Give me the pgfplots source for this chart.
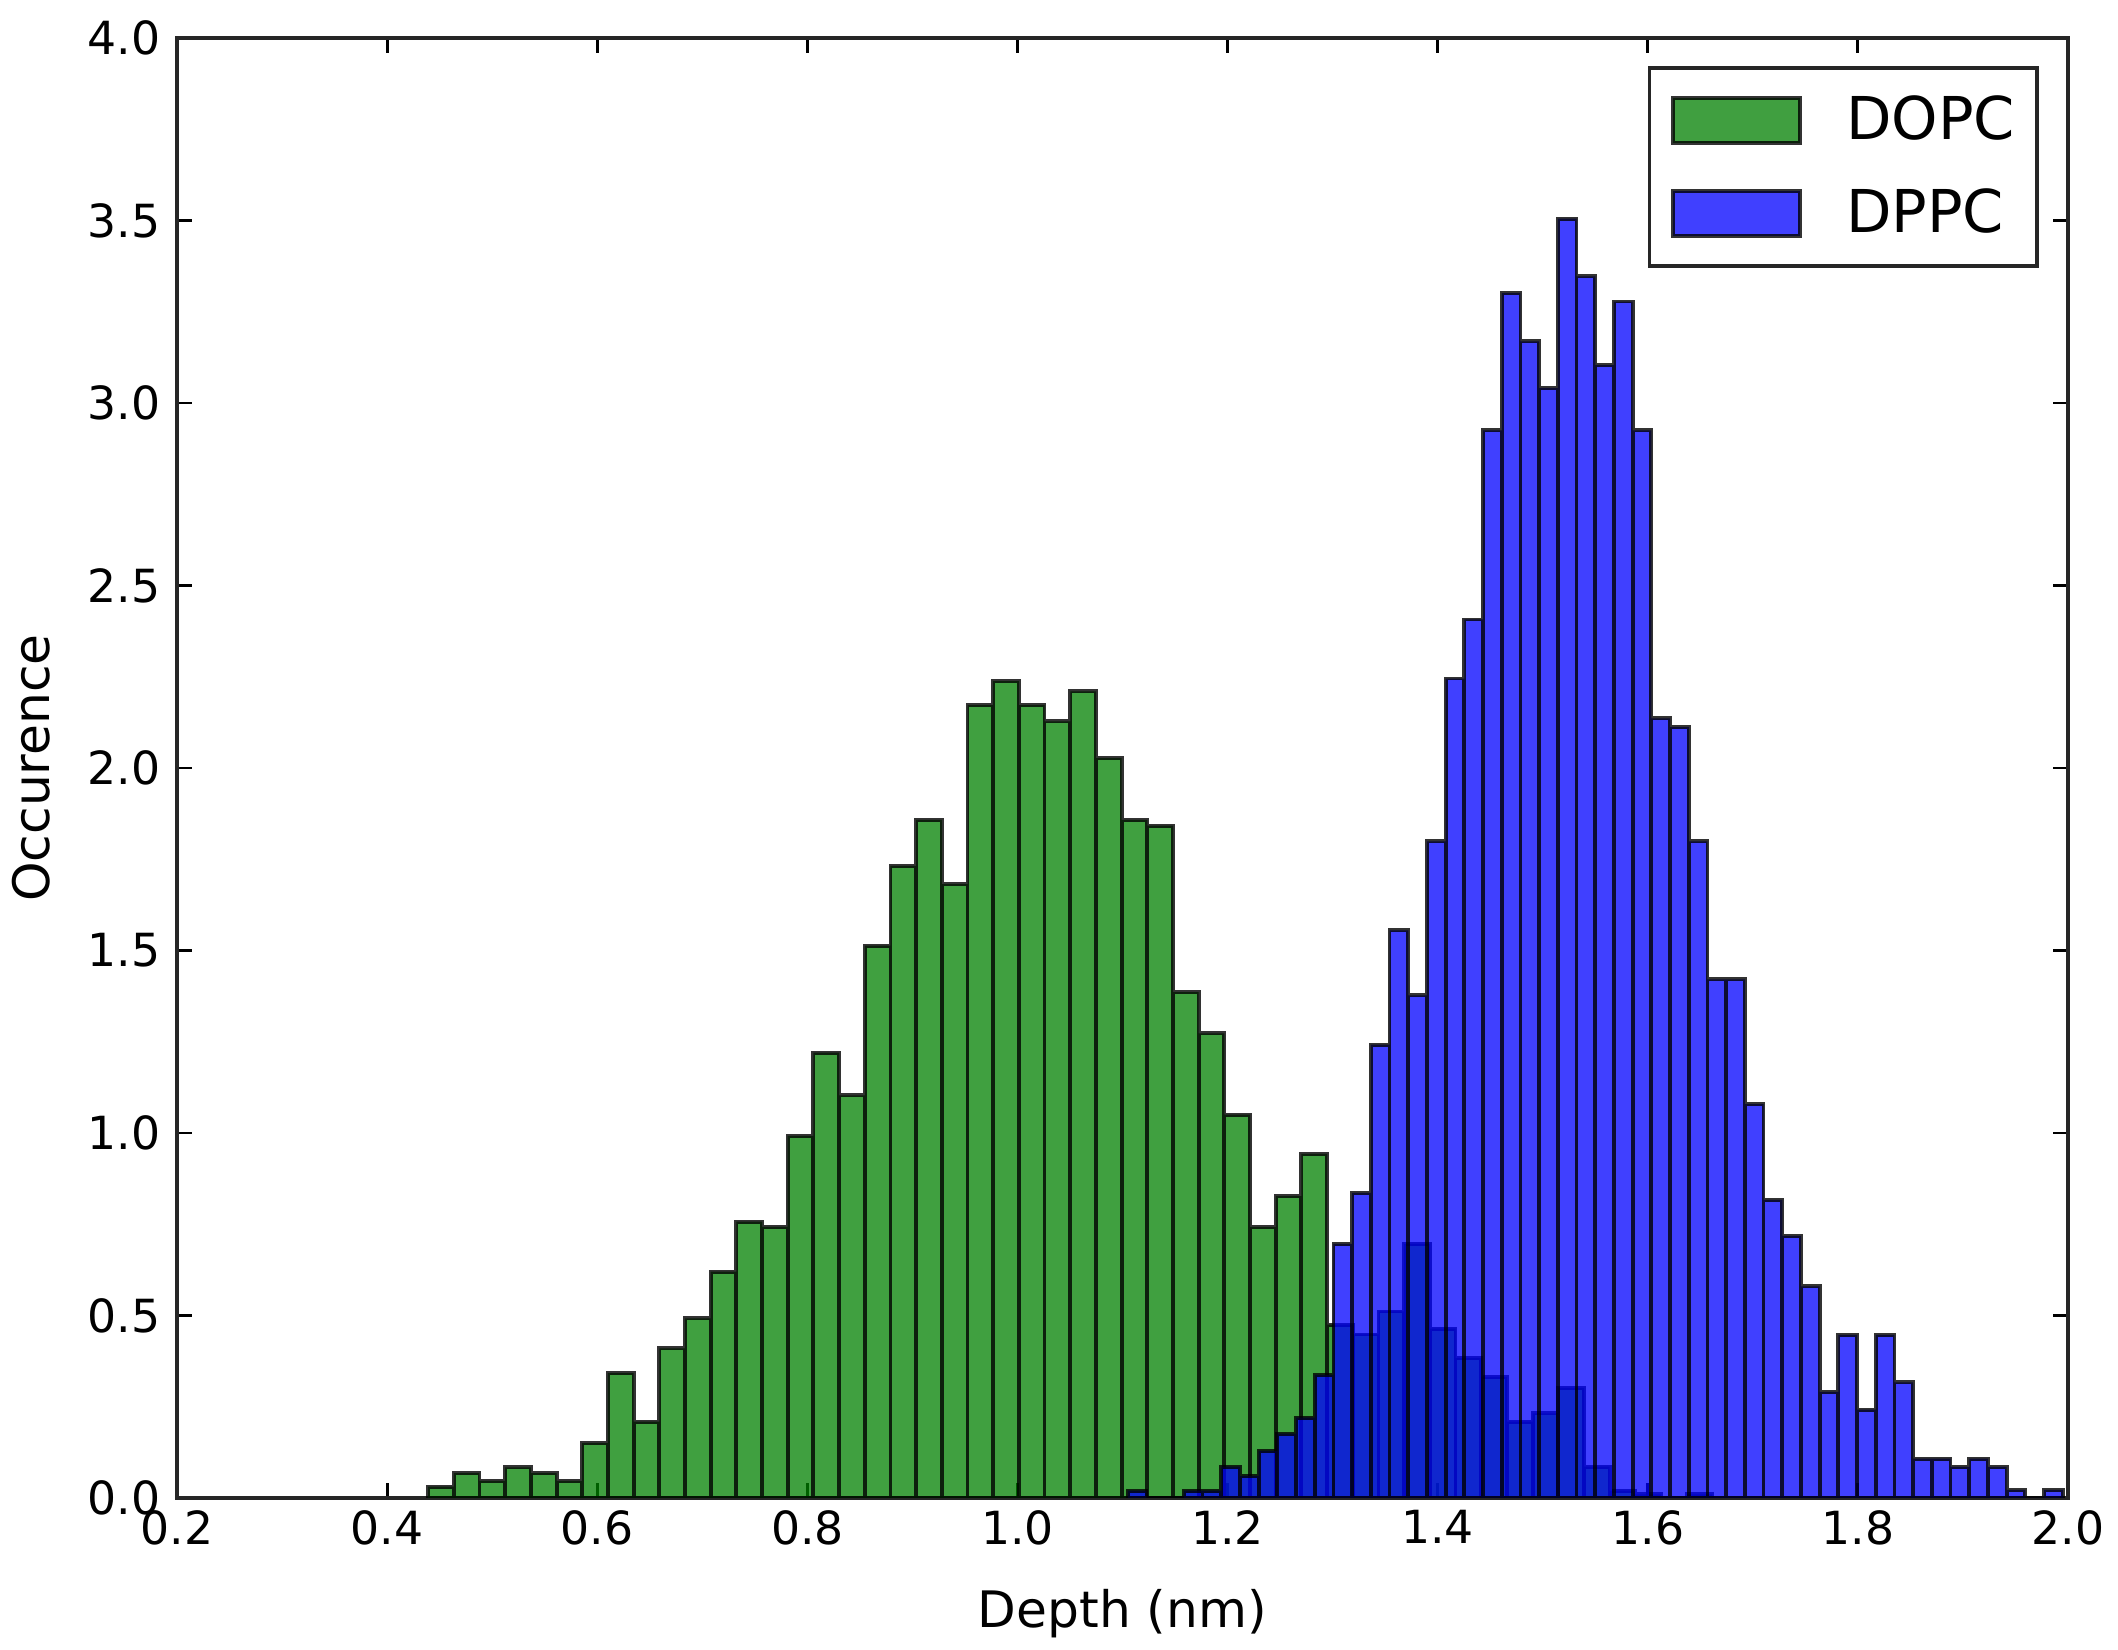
\documentclass[border=0pt]{standalone}
\usepackage{fontspec}
\setmainfont{DejaVu Sans}
\usepackage{pgfplots}
\pgfplotsset{compat=1.18}

\begin{document}
\begin{tikzpicture}
\begin{axis}[
  scale only axis,
  width=18.91cm, height=14.60cm,
  xmin=0.2, xmax=2.0, ymin=0, ymax=4.0,
  xtick={0.2,0.4,0.6,0.8,1.0,1.2,1.4,1.6,1.8,2.0},
  ytick={0,0.5,1.0,1.5,2.0,2.5,3.0,3.5,4.0},
  xticklabel style={/pgf/number format/fixed,/pgf/number format/fixed zerofill,/pgf/number format/precision=1},
  yticklabel style={/pgf/number format/fixed,/pgf/number format/fixed zerofill,/pgf/number format/precision=1, xshift=-0.04cm},
  /pgf/number format/assume math mode=true,
  tick align=inside,
  xtick pos=both, ytick pos=both,
  major tick length=0.15cm,
  tick style={black, line width=0.8pt},
  axis line style={black!85, line width=1.2pt},
  tick label style={font=\fontsize{13}{15}\selectfont, black},
  label style={font=\fontsize{14.3}{17}\selectfont},
  xlabel={Depth (nm)},
  ylabel={Occurence},
  ylabel style={inner sep=0pt},
  ylabel shift=0.25cm,
  xlabel shift=0.2cm,
  legend style={at={(1,1)}, anchor=north east, xshift=-0.29cm, yshift=-0.28cm,
    draw=black!85, line width=1.1pt, fill=white,
    inner xsep=0.22cm, inner ysep=0.28cm,
    nodes={inner sep=0pt},
    row sep=0.44cm,
    font=\fontsize{16.8}{20}\selectfont},
  legend cell align=left,
]
\addplot[ybar interval, fill={rgb,1:red,0;green,0.5;blue,0}, fill opacity=0.75,
  draw=black, draw opacity=0.8, line width=1.1pt,
  legend image code/.code={\draw[fill={rgb,1:red,0;green,0.5;blue,0}, fill opacity=0.75, draw=black, draw opacity=0.8, line width=1.1pt] (0cm,-0.225cm) rectangle (1.27cm,0.225cm); \path (1.71cm,0cm);}]
coordinates {
(0.4390,0.031) (0.4635,0.068) (0.4879,0.047) (0.5124,0.084) (0.5368,0.068)
(0.5613,0.047) (0.5857,0.150) (0.6102,0.342) (0.6346,0.209) (0.6591,0.410)
(0.6835,0.492) (0.7080,0.620) (0.7324,0.757) (0.7569,0.743) (0.7813,0.992)
(0.8058,1.220) (0.8302,1.103) (0.8547,1.513) (0.8791,1.732) (0.9036,1.858)
(0.9280,1.682) (0.9525,2.172) (0.9769,2.238) (1.0014,2.172) (1.0258,2.128)
(1.0503,2.210) (1.0747,2.027) (1.0992,1.858) (1.1236,1.842) (1.1481,1.386)
(1.1725,1.273) (1.1970,1.050) (1.2214,0.742) (1.2459,0.827) (1.2703,0.943)
(1.2948,0.475) (1.3192,0.448) (1.3437,0.511) (1.3681,0.696) (1.3926,0.464)
(1.4170,0.383) (1.4415,0.332) (1.4659,0.209) (1.4904,0.232) (1.5148,0.302)
(1.5393,0.086) (1.5637,0.020) (1.5882,0.010) (1.6126,0.000) (1.6371,0.010)
(1.6615,0.010)
};
\addlegendentry{DOPC}
\addplot[ybar interval, fill={rgb,1:red,0;green,0;blue,1}, fill opacity=0.75,
  draw=black, draw opacity=0.8, line width=1.1pt,
  legend image code/.code={\draw[fill={rgb,1:red,0;green,0;blue,1}, fill opacity=0.75, draw=black, draw opacity=0.8, line width=1.1pt] (0cm,-0.225cm) rectangle (1.27cm,0.225cm); \path (1.71cm,0cm);}]
coordinates {
(1.1050,0.020) (1.1228,0.000) (1.1406,0.000) (1.1584,0.020) (1.1762,0.020)
(1.1940,0.086) (1.2118,0.060) (1.2296,0.129) (1.2474,0.176) (1.2652,0.220)
(1.2830,0.337) (1.3008,0.696) (1.3186,0.836) (1.3364,1.242) (1.3542,1.555)
(1.3720,1.377) (1.3898,1.799) (1.4076,2.245) (1.4254,2.407) (1.4432,2.925)
(1.4610,3.301) (1.4788,3.169) (1.4966,3.041) (1.5144,3.505) (1.5322,3.347)
(1.5500,3.104) (1.5678,3.278) (1.5856,2.925) (1.6034,2.136) (1.6212,2.112)
(1.6390,1.799) (1.6568,1.421) (1.6746,1.421) (1.6924,1.079) (1.7102,0.817)
(1.7280,0.718) (1.7458,0.580) (1.7636,0.291) (1.7814,0.447) (1.7992,0.242)
(1.8170,0.447) (1.8348,0.317) (1.8526,0.108) (1.8704,0.108) (1.8882,0.085)
(1.9060,0.108) (1.9238,0.085) (1.9416,0.022) (1.9594,0.000) (1.9772,0.022)
(1.9950,0.022)
};
\addlegendentry{DPPC}
\end{axis}
\path (current axis.south west) ++(-1.77cm,-1.48cm);
\path (current axis.north east) ++(0.50cm,0.38cm);
\end{tikzpicture}
\end{document}
